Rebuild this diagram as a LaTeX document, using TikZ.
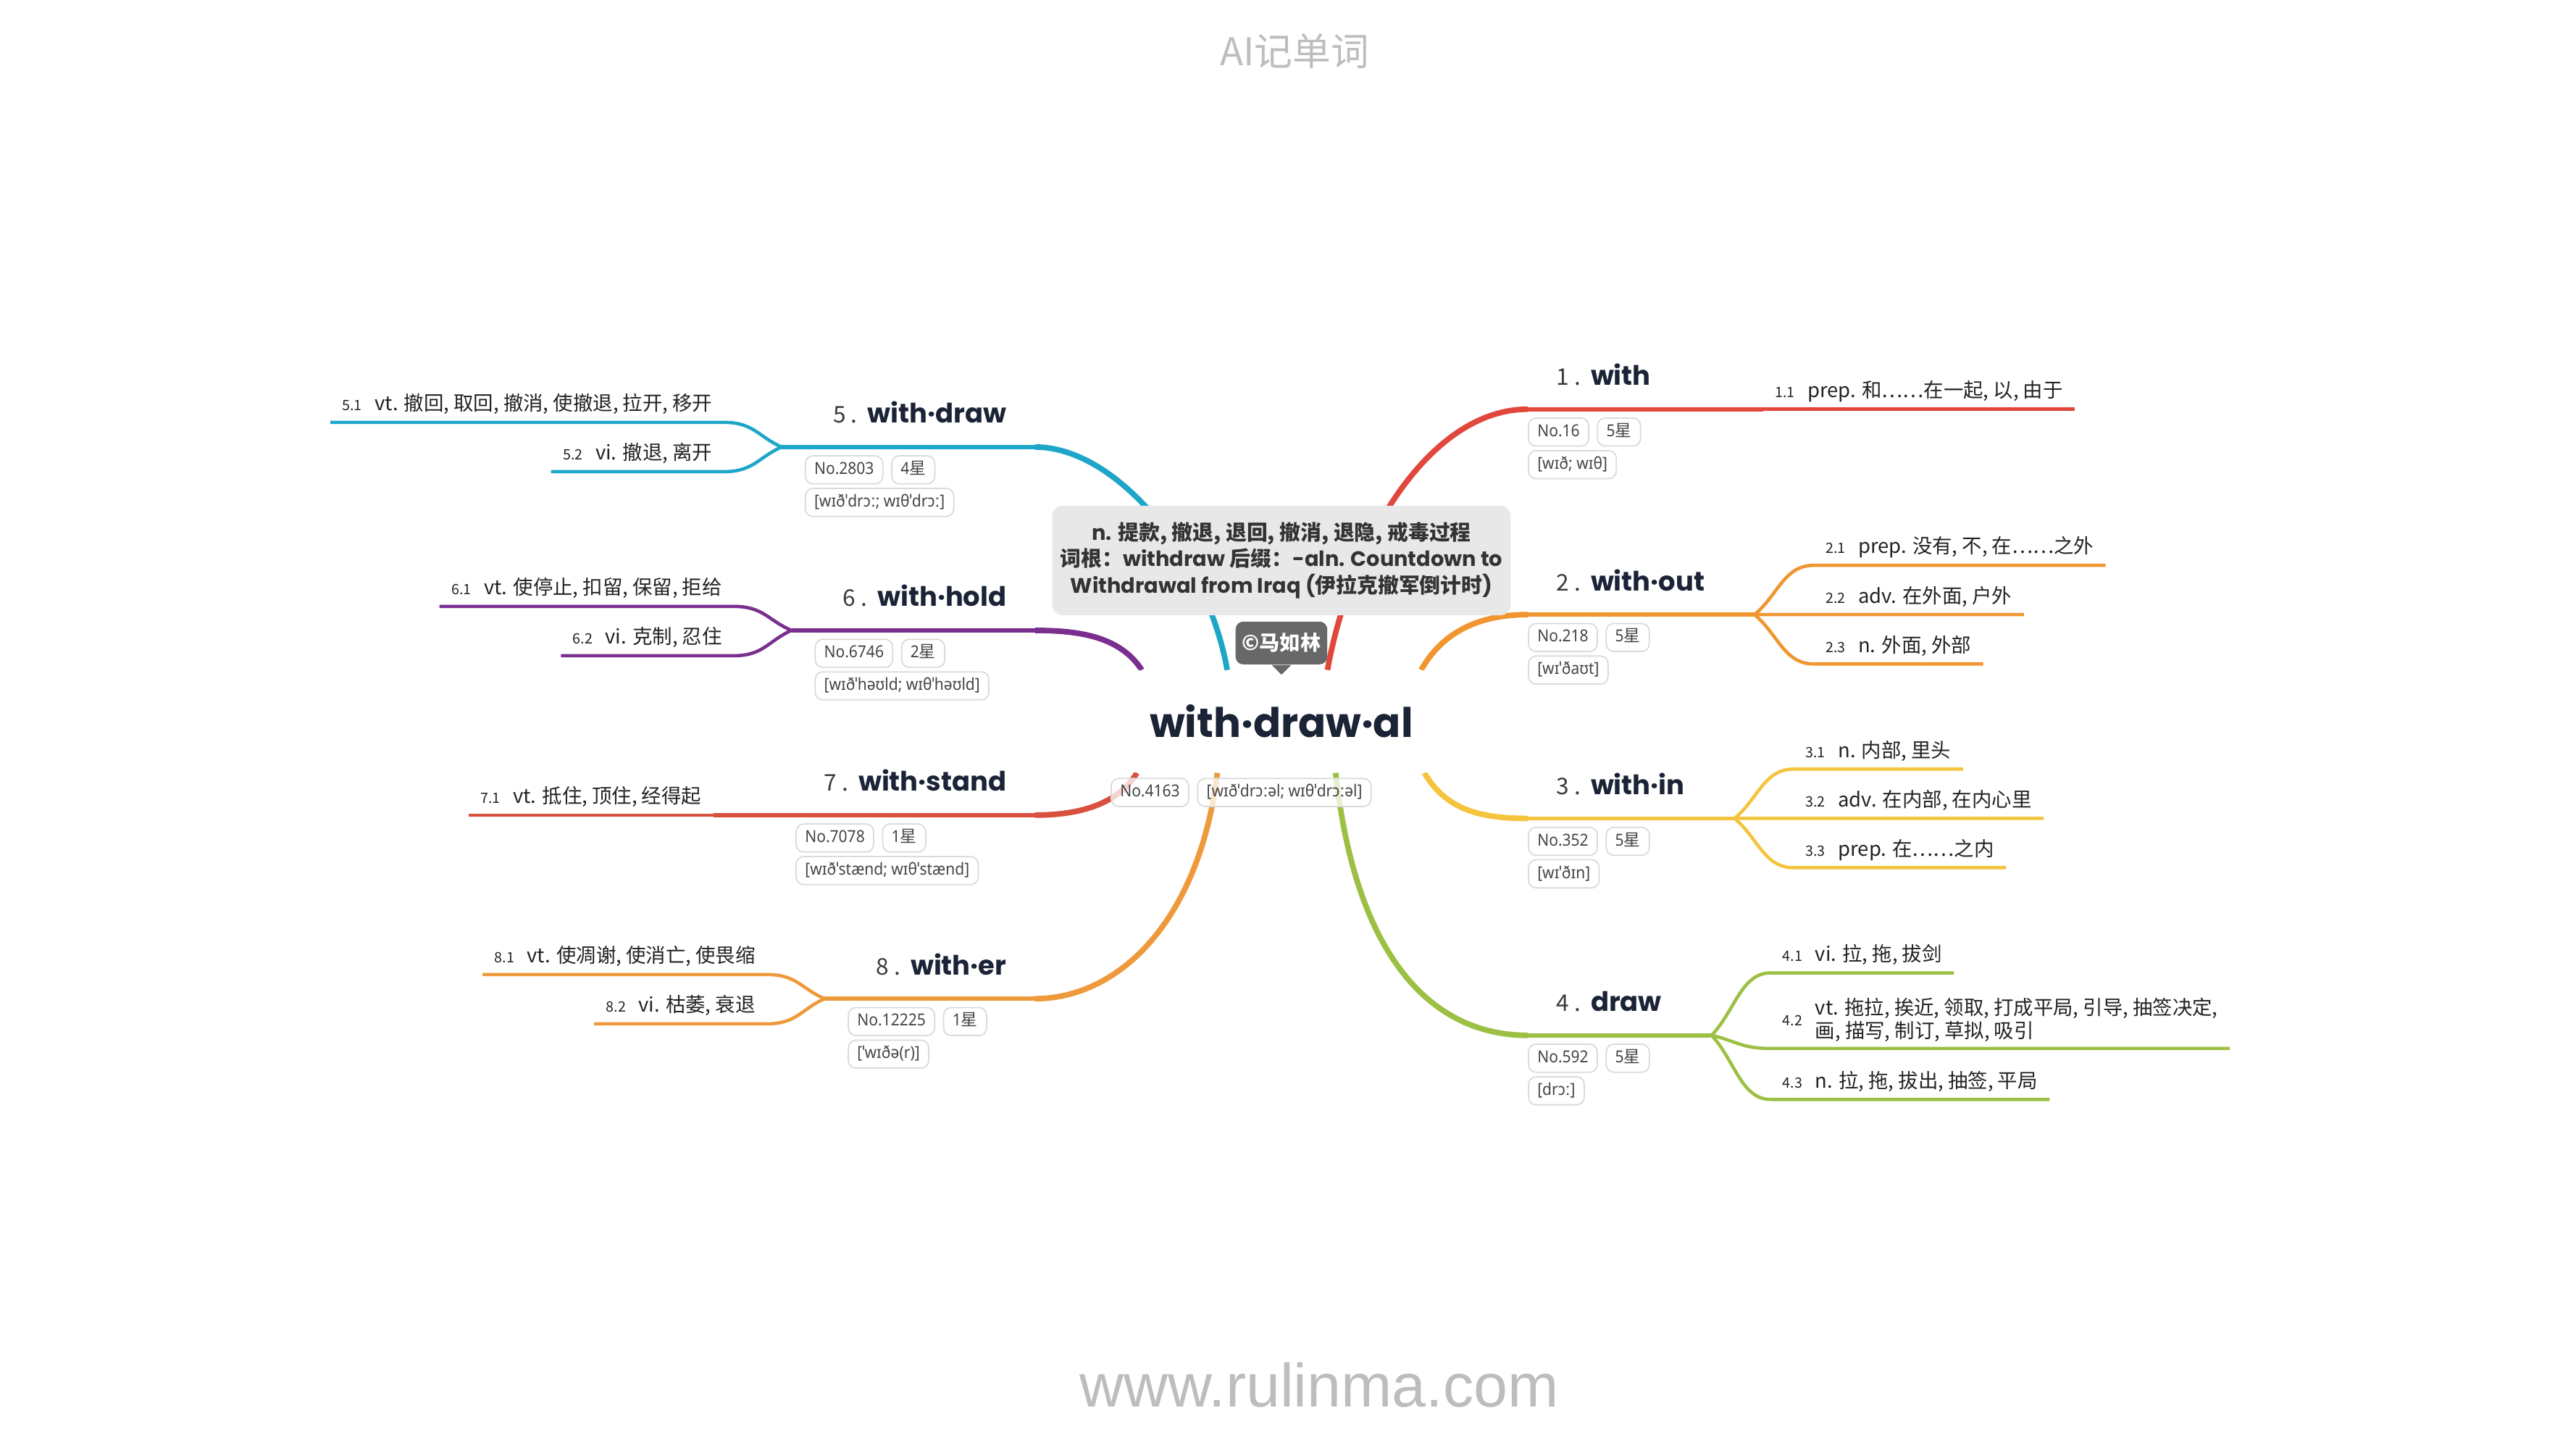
\documentclass[tikz,border=0pt]{standalone}
\usepackage{fontspec}
\setmainfont{Noto Sans CJK SC}
\newfontfamily\wordfont{Poppins}
\newfontfamily\ipafont{Noto Sans}[FakeStretch=0.92]
\newfontfamily\sitefont{Liberation Sans}
\usetikzlibrary{positioning,calc,backgrounds}

\definecolor{ink}{HTML}{1B2336}
\definecolor{txt}{HTML}{222222}
\definecolor{numc}{HTML}{3A3A3A}
\definecolor{tagline}{HTML}{DADADA}
\definecolor{tagtext}{HTML}{444444}
\definecolor{notebg}{HTML}{E8E8E8}
\definecolor{notetext}{HTML}{333333}
\definecolor{badgebg}{HTML}{686868}
\definecolor{markgray}{HTML}{BDBDBD}
\definecolor{cwith}{HTML}{E2473C}
\definecolor{cout}{HTML}{F0952F}
\definecolor{cin}{HTML}{F4C43E}
\definecolor{cdraw}{HTML}{9CC043}
\definecolor{cwdr}{HTML}{1DA6C8}
\definecolor{chold}{HTML}{7A2E8E}
\definecolor{cstand}{HTML}{D9503F}
\definecolor{cer}{HTML}{EE9A3C}

\newcommand\tno[1]{{\normalfont\color{numc}\fontsize{9}{10}\selectfont #1}\hspace{4pt}}
\newcommand\snum[1]{{\fontsize{5.6}{6}\selectfont #1}\hspace{5pt}}
\newcommand\lat[1]{{\wordfont #1}}

\tikzset{
  root/.style={fill=white, inner sep=0pt, minimum width=155pt, minimum height=40pt,
    text=ink, font=\wordfont\bfseries\fontsize{16}{18}\selectfont},
  topic/.style={inner xsep=11pt, inner ysep=6.7pt, text height=8pt, text depth=2.5pt,
    text=ink, font=\wordfont\bfseries\fontsize{10.5}{12}\selectfont},
  sense/.style={inner xsep=4.5pt, inner ysep=2.6pt, text height=6.5pt, text depth=1.8pt,
    text=txt, font=\fontsize{7.8}{8.4}\selectfont},
  sensetwo/.style={inner xsep=4.5pt, inner ysep=1.5pt, text=txt, font=\fontsize{7.8}{8.4}\selectfont},
  tag/.style={draw=tagline, line width=0.5pt, rounded corners=3pt, fill=white, fill opacity=0.75,
    text opacity=1, minimum height=11pt, inner xsep=3.5pt, inner ysep=0pt, text height=5pt,
    text depth=1.5pt, text=tagtext, font=\ipafont\fontsize{6.5}{7}\selectfont},
  note/.style={fill=notebg, rounded corners=4pt, minimum width=180pt, minimum height=43pt,
    align=center, text=notetext, font=\bfseries\fontsize{8.2}{10.3}\selectfont, inner sep=2pt},
  badge/.style={fill=badgebg, rounded corners=3pt, minimum width=36pt, minimum height=16.8pt,
    inner sep=1pt, text=white, font=\bfseries\fontsize{8}{9}\selectfont},
  trunk/.style={line width=2.2pt},
  stem/.style={line width=1.6pt},
  twig/.style={line width=1.3pt},
}

\begin{document}
\begin{tikzpicture}[x=0.02268cm, y=-0.02268cm]
\useasboundingbox (0,0) rectangle (1568,882);

% watermarks
\node[text=markgray, font=\fontsize{15}{17}\selectfont] (brand) at (788,31) {AI记单词};
\node[text=markgray, font=\sitefont\fontsize{24}{26}\selectfont] (site) at (803,843) {www.rulinma.com};

% centre
\node[root] (root) at (780,439) {with·draw·al};
\node[note, above=21.3pt of root] (note) {\lat{n.} 提款, 撤退, 退回, 撤消, 退隐, 戒毒过程\\
  词根：\lat{withdraw} 后缀：\lat{-aln. Countdown to}\\
  \lat{Withdrawal from Iraq (}伊拉克撤军倒计时\lat{)}};
\node[badge, above=2pt of root.north] (badge) {©马如林};
\fill[badgebg] ($(badge.south)+(-6,0)$) -- ($(badge.south)+(6,0)$) -- ($(badge.south)+(0,6)$) -- cycle;
\node[tag, anchor=north west] (rno) at ($(root.south)+(-104,3)$) {No.4163};
\node[tag, right=3pt of rno] (ripa) {[wɪðˈdrɔːəl; wɪθˈdrɔːəl]};

% 1 with
\node[topic, anchor=south west] (t1) at (930,249) {\tno{1 .}with};
\node[tag, anchor=north west] (t1no) at ($(t1.south west)+(0,5)$) {No.16};
\node[tag, right=3pt of t1no] (t1st) {5{\rmfamily 星}};
\node[tag, anchor=north west] (t1ipa) at ($(t1no.south west)+(0,2)$) {[wɪð; wɪθ]};
\node[sense, anchor=south west] (s11) at ($(t1.south east)+(51,0)$) {\snum{1.1}prep. 和……在一起, 以, 由于};

% 2 without
\node[topic, anchor=south west] (t2) at (930,374) {\tno{2 .}with·out};
\node[tag, anchor=north west] (t2no) at ($(t2.south west)+(0,5)$) {No.218};
\node[tag, right=3pt of t2no] (t2st) {5{\rmfamily 星}};
\node[tag, anchor=north west] (t2ipa) at ($(t2no.south west)+(0,2)$) {[wɪˈðaʊt]};
\coordinate (t2x) at ($(t2.south east)+(13,0)$);
\node[sense, anchor=south west] (s21) at ($(t2x)+(36,-30)$) {\snum{2.1}prep. 没有, 不, 在……之外};
\node[sense, anchor=south west] (s22) at ($(t2x)+(36,0)$) {\snum{2.2}adv. 在外面, 户外};
\node[sense, anchor=south west] (s23) at ($(t2x)+(36,30)$) {\snum{2.3}n. 外面, 外部};

% 3 within
\node[topic, anchor=south west] (t3) at (930,498) {\tno{3 .}with·in};
\node[tag, anchor=north west] (t3no) at ($(t3.south west)+(0,5)$) {No.352};
\node[tag, right=3pt of t3no] (t3st) {5{\rmfamily 星}};
\node[tag, anchor=north west] (t3ipa) at ($(t3no.south west)+(0,2)$) {[wɪˈðɪn]};
\coordinate (t3x) at ($(t3.south east)+(13,0)$);
\node[sense, anchor=south west] (s31) at ($(t3x)+(36,-30)$) {\snum{3.1}n. 内部, 里头};
\node[sense, anchor=south west] (s32) at ($(t3x)+(36,0)$) {\snum{3.2}adv. 在内部, 在内心里};
\node[sense, anchor=south west] (s33) at ($(t3x)+(36,30)$) {\snum{3.3}prep. 在……之内};

% 4 draw
\node[topic, anchor=south west] (t4) at (930,630) {\tno{4 .}draw};
\node[tag, anchor=north west] (t4no) at ($(t4.south west)+(0,5)$) {No.592};
\node[tag, right=3pt of t4no] (t4st) {5{\rmfamily 星}};
\node[tag, anchor=north west] (t4ipa) at ($(t4no.south west)+(0,2)$) {[drɔː]};
\coordinate (t4x) at ($(t4.south east)+(13,0)$);
\node[sense, anchor=south west] (s41) at ($(t4x)+(36,-38)$) {\snum{4.1}vi. 拉, 拖, 拔剑};
\node[sensetwo, anchor=south west] (s42) at ($(t4x)+(36,8)$) {\snum{4.2}\begin{tabular}[c]{@{}l@{}}vt. 拖拉, 挨近, 领取, 打成平局, 引导, 抽签决定,\\画, 描写, 制订, 草拟, 吸引\end{tabular}};
\node[sense, anchor=south west] (s43) at ($(t4x)+(36,39)$) {\snum{4.3}n. 拉, 拖, 拔出, 抽签, 平局};

% 5 withdraw
\node[topic, anchor=south east] (t5) at (630,272) {\tno{5 .}with·draw};
\node[tag, anchor=north west] (t5no) at ($(t5.south west)+(0,5)$) {No.2803};
\node[tag, right=3pt of t5no] (t5st) {4{\rmfamily 星}};
\node[tag, anchor=north west] (t5ipa) at ($(t5no.south west)+(0,2)$) {[wɪðˈdrɔː; wɪθˈdrɔː]};
\coordinate (t5x) at ($(t5.south west)+(-14,0)$);
\node[sense, anchor=south east] (s51) at ($(t5x)+(-35,-15)$) {\snum{5.1}vt. 撤回, 取回, 撤消, 使撤退, 拉开, 移开};
\node[sense, anchor=south east] (s52) at ($(t5x)+(-35,15)$) {\snum{5.2}vi. 撤退, 离开};

% 6 withhold
\node[topic, anchor=south east] (t6) at (630,383.6) {\tno{6 .}with·hold};
\node[tag, anchor=north west] (t6no) at ($(t6.south west)+(0,5)$) {No.6746};
\node[tag, right=3pt of t6no] (t6st) {2{\rmfamily 星}};
\node[tag, anchor=north west] (t6ipa) at ($(t6no.south west)+(0,2)$) {[wɪðˈhəʊld; wɪθˈhəʊld]};
\coordinate (t6x) at ($(t6.south west)+(-14,0)$);
\node[sense, anchor=south east] (s61) at ($(t6x)+(-35,-14.6)$) {\snum{6.1}vt. 使停止, 扣留, 保留, 拒给};
\node[sense, anchor=south east] (s62) at ($(t6x)+(-35,15.4)$) {\snum{6.2}vi. 克制, 忍住};

% 7 withstand
\node[topic, anchor=south east] (t7) at (630,496) {\tno{7 .}with·stand};
\node[tag, anchor=north west] (t7no) at ($(t7.south west)+(0,5)$) {No.7078};
\node[tag, right=3pt of t7no] (t7st) {1{\rmfamily 星}};
\node[tag, anchor=north west] (t7ipa) at ($(t7no.south west)+(0,2)$) {[wɪðˈstænd; wɪθˈstænd]};
\node[sense, anchor=south east] (s71) at ($(t7.south west)+(-50,0)$) {\snum{7.1}vt. 抵住, 顶住, 经得起};

% 8 wither
\node[topic, anchor=south east] (t8) at (630,607.7) {\tno{8 .}with·er};
\node[tag, anchor=north west] (t8no) at ($(t8.south west)+(0,5)$) {No.12225};
\node[tag, right=3pt of t8no] (t8st) {1{\rmfamily 星}};
\node[tag, anchor=north west] (t8ipa) at ($(t8no.south west)+(0,2)$) {[ˈwɪðə(r)]};
\coordinate (t8x) at ($(t8.south west)+(-14,0)$);
\node[sense, anchor=south east] (s81) at ($(t8x)+(-35,-14.7)$) {\snum{8.1}vt. 使凋谢, 使消亡, 使畏缩};
\node[sense, anchor=south east] (s82) at ($(t8x)+(-35,15.3)$) {\snum{8.2}vi. 枯萎, 衰退};

\begin{pgfonlayer}{background}
% trunks
\draw[trunk, cwith] ($(root.north)+(28,0)$) .. controls +(14,-78) and +(-60,0) .. (t1.south west);
\draw[trunk, cout] ($(root.north)+(85,0)$) .. controls +(13,-23) and +(-30,0) .. (t2.south west);
\draw[trunk, cin] ($(root.south)+(87,0)$) .. controls +(13,22) and +(-30,0) .. (t3.south west);
\draw[trunk, cdraw] ($(root.south)+(33,0)$) .. controls +(12,110) and +(-60,0) .. (t4.south west);
\draw[trunk, cwdr] ($(root.north)+(-33,0)$) .. controls +(-12,-68) and +(50,0) .. (t5.south east);
\draw[trunk, chold] ($(root.north)+(-85,0)$) .. controls +(-13,-20) and +(28,0) .. (t6.south east);
\draw[trunk, cstand] ($(root.south)+(-88,0)$) .. controls +(-12,20) and +(25,0) .. (t7.south east);
\draw[trunk, cer] ($(root.south)+(-39,0)$) .. controls +(-11,90) and +(51,0) .. (t8.south east);
% stems and twigs
\draw[stem, cwith] (t1.south west) -- (t1.south east) -- (s11.south west);
\draw[twig, cwith] (s11.south west) -- (s11.south east);
\draw[stem, cout] (t2.south west) -- (t2x);
\foreach \s in {s21,s22,s23}
  \draw[twig, cout] (t2x) .. controls ($(t2x)!0.4!(\s.south west)$) and ($(\s.south west)+(-18,0)$) .. (\s.south west) -- (\s.south east);
\draw[stem, cin] (t3.south west) -- (t3x);
\foreach \s in {s31,s32,s33}
  \draw[twig, cin] (t3x) .. controls ($(t3x)!0.4!(\s.south west)$) and ($(\s.south west)+(-18,0)$) .. (\s.south west) -- (\s.south east);
\draw[stem, cdraw] (t4.south west) -- (t4x);
\foreach \s in {s41,s42,s43}
  \draw[twig, cdraw] (t4x) .. controls ($(t4x)!0.4!(\s.south west)$) and ($(\s.south west)+(-18,0)$) .. (\s.south west) -- (\s.south east);
\draw[stem, cwdr] (t5.south east) -- (t5x);
\foreach \s in {s51,s52}
  \draw[twig, cwdr] (t5x) .. controls ($(t5x)!0.4!(\s.south east)$) and ($(\s.south east)+(18,0)$) .. (\s.south east) -- (\s.south west);
\draw[stem, chold] (t6.south east) -- (t6x);
\foreach \s in {s61,s62}
  \draw[twig, chold] (t6x) .. controls ($(t6x)!0.4!(\s.south east)$) and ($(\s.south east)+(18,0)$) .. (\s.south east) -- (\s.south west);
\draw[stem, cstand] (t7.south east) -- (t7.south west) -- (s71.south east);
\draw[twig, cstand] (s71.south east) -- (s71.south west);
\draw[stem, cer] (t8.south east) -- (t8x);
\foreach \s in {s81,s82}
  \draw[twig, cer] (t8x) .. controls ($(t8x)!0.4!(\s.south east)$) and ($(\s.south east)+(18,0)$) .. (\s.south east) -- (\s.south west);
\end{pgfonlayer}
\end{tikzpicture}
\end{document}
